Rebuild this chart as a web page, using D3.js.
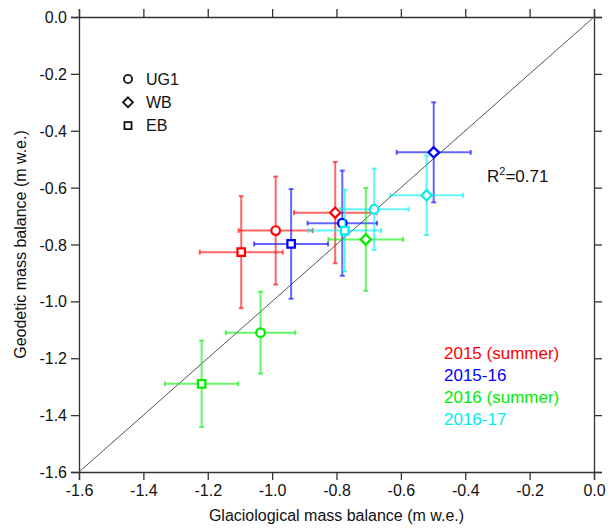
<!DOCTYPE html>
<html><head><meta charset="utf-8">
<script src="https://cdn.jsdelivr.net/npm/d3@7"></script>
<style>body{margin:0;background:#fff}svg{display:block;font-family:"Liberation Sans",Arial,sans-serif}</style>
</head><body><svg id="c" width="611" height="530"></svg>
<script>
const glaciers = ["UG1", "WB", "EB"];
const shapes = ["circle", "diamond", "square"];
const periods = ["2015 (summer)", "2015-16", "2016 (summer)", "2016-17"];
const periodColors = ["#ff0000", "#0000ff", "#00ee00", "#00eeee"];
// per period, values for [UG1, WB, EB]
const glacioX = [[-0.989, -0.804, -1.096], [-0.782, -0.498, -0.941], [-1.036, -0.709, -1.219], [-0.683, -0.520, -0.774]];
const geodY   = [[-0.751, -0.688, -0.827], [-0.725, -0.476, -0.798], [-1.110, -0.782, -1.290], [-0.676, -0.627, -0.751]];
const errX    = [[0.115, 0.128, 0.129], [0.108, 0.115, 0.115], [0.108, 0.116, 0.114], [0.107, 0.113, 0.113]];
const errY    = [[0.190, 0.178, 0.197], [0.185, 0.176, 0.193], [0.144, 0.181, 0.152], [0.143, 0.140, 0.144]];
const tickValues = [-1.6, -1.4, -1.2, -1.0, -0.8, -0.6, -0.4, -0.2, 0.0];
const r2Label = "0.71";

const L = 79, R = 594, T = 17, B = 472;
const svg = d3.select("#c");
const x = d3.scaleLinear().domain([-1.6, 0]).range([L, R]);
const y = d3.scaleLinear().domain([-1.6, 0]).range([B, T]);
const loc = d3.formatLocale({decimal: ".", thousands: ",", grouping: [3], currency: ["", ""], minus: "-"});
const fmt = loc.format(".1f");
const axCol = "#333";

function styleAxis(g) {
  g.selectAll("path").attr("stroke", axCol).attr("stroke-width", 1.3);
  g.selectAll("line").attr("stroke", axCol).attr("stroke-width", 1.3);
  g.selectAll("text").attr("fill", "#111").style("font-size", "16px").style("font-family", '"Liberation Sans",Arial,sans-serif');
}
svg.append("g").attr("transform", `translate(0,${B})`)
  .call(d3.axisBottom(x).tickValues(tickValues).tickFormat(fmt).tickSizeOuter(0).tickSize(8).tickPadding(5)).call(styleAxis);
svg.append("g").attr("transform", `translate(${L},0)`)
  .call(d3.axisLeft(y).tickValues(tickValues).tickFormat(fmt).tickSizeOuter(0).tickSize(8).tickPadding(4)).call(styleAxis)
  .selectAll("text").attr("dy", "0.35em");
svg.append("g").attr("transform", `translate(0,${T})`)
  .call(d3.axisTop(x).tickValues(tickValues).tickFormat("").tickSizeOuter(0).tickSize(8)).call(styleAxis);
svg.append("g").attr("transform", `translate(${R},0)`)
  .call(d3.axisRight(y).tickValues(tickValues).tickFormat("").tickSizeOuter(0).tickSize(8)).call(styleAxis);

// 1:1 line
svg.append("line").attr("x1", x(-1.6)).attr("y1", y(-1.6)).attr("x2", x(0)).attr("y2", y(0))
  .attr("stroke", "#555").attr("stroke-width", 1);

// axis titles
svg.append("text").attr("x", (L + R) / 2).attr("y", 521).attr("text-anchor", "middle")
  .style("font-size", "16px").attr("fill", "#111").text("Glaciological mass balance (m w.e.)");
svg.append("text").attr("transform", `translate(26,${(T + B) / 2}) rotate(-90)`).attr("text-anchor", "middle")
  .style("font-size", "16px").attr("fill", "#111").text("Geodetic mass balance (m w.e.)");

function symPath(shape, scale) {
  if (shape === "diamond") {
    const s = 5.2 * scale;
    return `M0,${-s}L${s},0L0,${s}L${-s},0Z`;
  }
  if (shape === "circle") return d3.symbol(d3.symbolCircle, 58 * scale * scale)();
  return d3.symbol(d3.symbolSquare, 56 * scale * scale)();
}

const cap = 2.5;
periods.forEach((p, i) => {
  const g = svg.append("g");
  const col = periodColors[i];
  glaciers.forEach((gl, j) => {
    const cx = x(glacioX[i][j]), cy = y(geodY[i][j]);
    const x0 = x(glacioX[i][j] - errX[i][j]), x1 = x(glacioX[i][j] + errX[i][j]);
    const y0 = y(geodY[i][j] - errY[i][j]), y1 = y(geodY[i][j] + errY[i][j]);
    const eb = g.append("g").attr("stroke", col).attr("stroke-opacity", 0.6).attr("stroke-width", 2);
    eb.append("line").attr("x1", x0).attr("x2", x1).attr("y1", cy).attr("y2", cy);
    eb.append("line").attr("x1", cx).attr("x2", cx).attr("y1", y0).attr("y2", y1);
    eb.append("line").attr("x1", x0).attr("x2", x0).attr("y1", cy - cap).attr("y2", cy + cap);
    eb.append("line").attr("x1", x1).attr("x2", x1).attr("y1", cy - cap).attr("y2", cy + cap);
    eb.append("line").attr("y1", y0).attr("y2", y0).attr("x1", cx - cap).attr("x2", cx + cap);
    eb.append("line").attr("y1", y1).attr("y2", y1).attr("x1", cx - cap).attr("x2", cx + cap);
  });
  glaciers.forEach((gl, j) => {
    g.append("path").attr("d", symPath(shapes[j], 1))
      .attr("transform", `translate(${x(glacioX[i][j])},${y(geodY[i][j])})`)
      .attr("fill", "#fff").attr("stroke", col).attr("stroke-width", 2.2);
  });
});

// shape legend
const lg = svg.append("g");
glaciers.forEach((gl, j) => {
  const yy = 79 + j * 23.3;
  lg.append("path").attr("d", symPath(shapes[j], 0.95)).attr("transform", `translate(128,${yy})`)
    .attr("fill", "none").attr("stroke", "#111").attr("stroke-width", 1.8);
  lg.append("text").attr("x", 146).attr("y", yy).attr("dy", "0.36em").style("font-size", "16px").attr("fill", "#111").text(gl);
});

// period legend
periods.forEach((p, i) => {
  svg.append("text").attr("x", 444).attr("y", 353 + i * 22.1).attr("dy", "0.36em")
    .style("font-size", "17px").attr("fill", periodColors[i]).text(p);
});

// R2
const rt = svg.append("text").attr("x", 487).attr("y", 182).style("font-size", "17px").attr("fill", "#111");
rt.append("tspan").text("R");
rt.append("tspan").attr("dy", -7).style("font-size", "11px").text("2");
rt.append("tspan").attr("dy", 7).text("=" + r2Label);
</script></body></html>
